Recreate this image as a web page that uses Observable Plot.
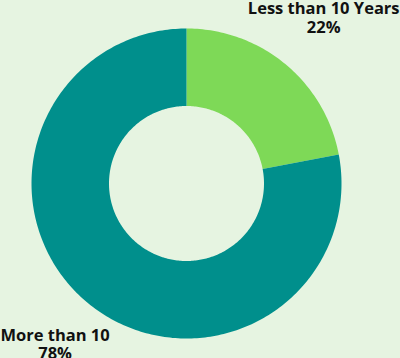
<!DOCTYPE html>
<html>
<head>
<meta charset="utf-8">
<script src="https://cdn.jsdelivr.net/npm/d3@7"></script>
<script src="https://cdn.jsdelivr.net/npm/@observablehq/plot@0.6"></script>
<style>
  html, body { margin: 0; padding: 0; background: #e6f4e1; }
  #chart { width: 400px; height: 358px; }
</style>
</head>
<body>
<div id="chart"></div>
<script>
const categories = ["Less than 10 Years", "More than 10"];
const values = [22, 78];
const percentLabels = ["22%", "78%"];
const colors = ["#7ed957", "#008f8c"];
// label anchor positions in unit-circle coordinates
const labelX = [0.885, -0.848];
const labelY = [1.071, -1.035];

const innerRatio = 0.5;
const total = d3.sum(values);
const polys = [];
let start = 0;
categories.forEach((c, i) => {
  const a0 = start / total * 2 * Math.PI;
  const a1 = (start + values[i]) / total * 2 * Math.PI;
  start += values[i];
  const n = Math.max(8, Math.ceil((a1 - a0) / (Math.PI / 180)));
  for (let k = 0; k <= n; k++) {
    const a = a0 + (a1 - a0) * k / n;
    polys.push({cat: c, x: Math.sin(a), y: Math.cos(a)});
  }
  for (let k = n; k >= 0; k--) {
    const a = a0 + (a1 - a0) * k / n;
    polys.push({cat: c, x: innerRatio * Math.sin(a), y: innerRatio * Math.cos(a)});
  }
});

const labels = categories.map((c, i) => ({text: c + "\n" + percentLabels[i], x: labelX[i], y: labelY[i]}));

const plot = Plot.plot({
  width: 400,
  height: 358,
  marginLeft: 31,
  marginRight: 59,
  marginTop: 28,
  marginBottom: 20,
  x: {domain: [-1, 1], axis: null},
  y: {domain: [-1, 1], axis: null},
  color: {domain: categories, range: colors},
  style: {background: "#e6f4e1", overflow: "visible"},
  marks: [
    Plot.line(polys, {x: "x", y: "y", z: "cat", fill: "cat", stroke: "none", curve: "linear-closed"}),
    Plot.text(labels, {
      x: "x", y: "y", text: "text",
      fontFamily: "Open Sans", fontWeight: "bold", fontSize: 16.5,
      lineHeight: 1.13, lineAnchor: "middle", textAnchor: "middle",
      fill: "#111111"
    })
  ]
});
document.getElementById("chart").appendChild(plot);
</script>
</body>
</html>
